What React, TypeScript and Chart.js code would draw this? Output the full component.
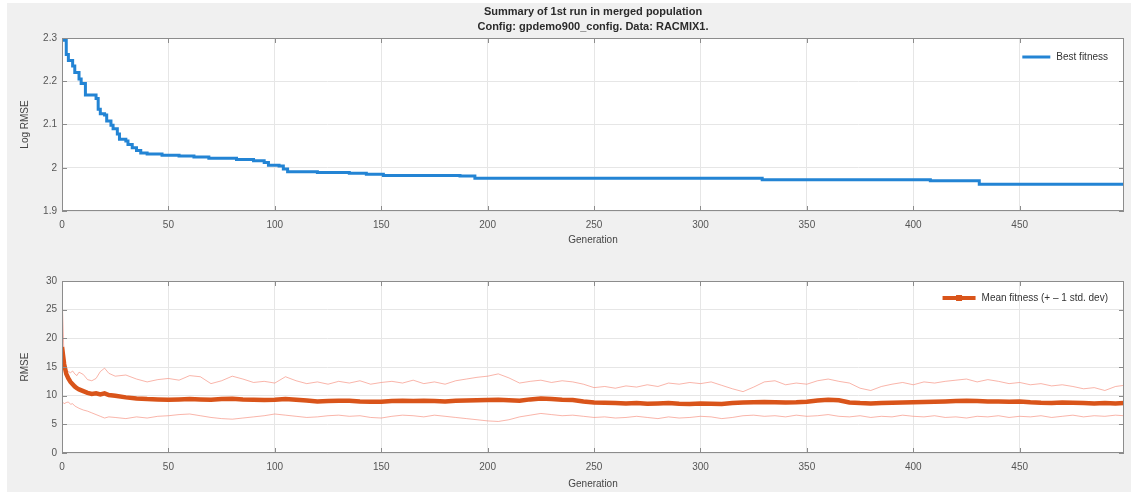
import { useEffect, useRef } from "react"
import { Chart, registerables } from "chart.js"

Chart.register(...registerables)

const FONT = "'Liberation Sans', Arial, Helvetica, sans-serif"

const titleLines = [
  "Summary of 1st run in merged population",
  "Config: gpdemo900_config. Data: RACMIX1.",
]

// x axis ticks (generations) and y ticks for both panels
const genTicks = [0, 50, 100, 150, 200, 250, 300, 350, 400, 450]
const logRmseTicks = [1.9, 2, 2.1, 2.2, 2.3]
const rmseTicks = [0, 5, 10, 15, 20, 25, 30]

// best fitness: generations where the best individual improved + its log RMSE
const bestGen = [
  0, 2, 3, 5, 6, 8, 9, 11, 16, 17, 18, 20, 21, 23, 24, 26, 27, 30, 31, 33, 35, 37, 40,
  47, 55, 62, 69, 82, 90, 95, 97, 102, 104, 106, 120, 135, 143, 151, 187, 194, 329,
  408, 431, 499,
]
const bestLogRmse = [
  2.295, 2.262, 2.248, 2.235, 2.22, 2.205, 2.195, 2.168, 2.16, 2.135, 2.125, 2.122,
  2.108, 2.098, 2.09, 2.078, 2.066, 2.062, 2.054, 2.046, 2.04, 2.034, 2.032, 2.029,
  2.027, 2.025, 2.022, 2.019, 2.016, 2.012, 2.006, 2.004, 1.997, 1.991, 1.989, 1.987,
  1.985, 1.982, 1.981, 1.976, 1.972, 1.970, 1.962, 1.962,
]

// population stats (sampled generations)
const popGen = [
  0, 1, 2, 3, 4, 5, 6, 7, 8,
  10, 12, 14, 16, 18, 20, 22,
  25, 30, 35, 40, 45,
  50, 55, 60, 65, 70, 75, 80, 85, 90, 95,
  100, 105, 110, 115, 120, 125, 130, 135, 140, 145,
  150, 155, 160, 165, 170, 175, 180, 185, 190, 195,
  200, 205, 210, 215, 220, 225, 230, 235, 240, 245,
  250, 255, 260, 265, 270, 275, 280, 285, 290, 295,
  300, 305, 310, 315, 320, 325, 330, 335, 340, 345,
  350, 355, 360, 365, 370, 375, 380, 385, 390, 395,
  400, 405, 410, 415, 420, 425, 430, 435, 440, 445,
  450, 455, 460, 465, 470, 475, 480, 485, 490, 495,
  499,
]
const meanRmse = [
  18.5, 15.5, 13.8, 13.0, 12.4, 12.0, 11.6, 11.3, 11.1,
  10.8, 10.5, 10.3, 10.4, 10.2, 10.4, 10.1,
  10.0, 9.7, 9.5, 9.4, 9.35,
  9.3, 9.35, 9.4, 9.35, 9.3, 9.4, 9.45, 9.35, 9.3, 9.25,
  9.3, 9.4, 9.3, 9.15, 9.0, 9.05, 9.1, 9.1, 9.0, 8.95,
  8.95, 9.05, 9.1, 9.05, 9.1, 9.05, 9.0, 9.1, 9.15, 9.2,
  9.25, 9.3, 9.2, 9.1, 9.35, 9.5, 9.4, 9.3, 9.25, 9.0,
  8.8, 8.75, 8.7, 8.65, 8.7, 8.6, 8.65, 8.7, 8.6, 8.55,
  8.65, 8.6, 8.55, 8.7, 8.8, 8.85, 8.9, 8.85, 8.8, 8.85,
  8.95, 9.15, 9.3, 9.2, 8.8, 8.7, 8.65, 8.7, 8.75, 8.8,
  8.85, 8.9, 8.95, 9.0, 9.05, 9.1, 9.05, 9.0, 9.0, 8.95,
  9.0, 8.85, 8.75, 8.7, 8.8, 8.75, 8.7, 8.65, 8.7, 8.65,
  8.7,
]
const upperRmse = [
  28, 16, 14.5, 14.2, 14.0, 14.3, 13.8, 13.5, 14.1,
  13.7, 12.8, 12.6, 13.0, 14.2, 14.8, 13.9,
  13.4, 13.6, 12.9, 12.4, 12.8,
  13.0, 12.7, 13.5, 13.3, 12.1, 12.6, 13.4, 12.9, 12.3, 12.5,
  12.2, 13.3, 12.6, 12.1, 12.4, 12.0, 12.5, 12.2, 12.6, 12.0,
  12.3, 12.5, 12.2, 12.7, 12.1, 12.4, 12.0, 12.6, 12.9, 13.2,
  13.4, 13.8, 13.1, 12.2, 12.5, 12.7, 12.3, 12.6, 12.4, 12.0,
  11.4, 11.6, 11.3, 11.7, 11.5, 11.9, 11.6, 12.2, 12.0, 12.3,
  12.1, 12.4, 11.8, 11.2, 10.7, 11.5, 12.4, 12.6, 11.9, 12.2,
  12.0, 12.6, 12.9, 12.5, 12.2, 11.3, 10.9, 11.6, 12.0, 12.3,
  11.9, 12.4, 12.2, 12.5, 12.7, 12.9, 12.4, 12.8, 12.5, 12.1,
  12.3, 11.9, 12.1, 11.7, 11.9, 11.6, 11.2, 11.4, 10.9, 11.6,
  11.8,
]
const lowerRmse = [
  9.0, 8.6, 8.8, 8.9, 8.5, 8.6, 8.2, 8.0, 7.8,
  7.5, 7.3, 7.0, 6.7, 6.4, 6.1, 6.3,
  6.2, 6.0, 6.3, 6.1, 6.4,
  6.5, 6.7, 6.8, 6.5, 6.2, 6.0, 5.9, 6.1, 6.3, 6.5,
  6.8, 6.6, 6.4, 6.2, 6.3, 6.5, 6.6, 6.4, 6.5, 6.2,
  6.1, 6.4, 6.6, 6.5, 6.3, 6.6, 6.4, 6.2, 6.0, 5.8,
  5.6, 5.5, 5.8, 6.3, 6.6, 6.9, 6.7, 6.5, 6.6, 6.4,
  6.2, 6.3, 6.1, 6.2, 6.4, 6.2, 6.0, 6.3, 6.1, 6.2,
  6.4, 6.3, 6.0, 6.2, 6.5, 6.6, 6.4, 6.5, 6.3, 6.6,
  6.4, 6.5, 6.7, 6.4, 6.3, 6.5, 6.2, 6.4, 6.3, 6.6,
  6.4, 6.3, 6.5, 6.2, 6.3, 6.1, 6.4, 6.3, 6.5, 6.2,
  6.4, 6.3, 6.5, 6.2, 6.4, 6.6, 6.3, 6.5, 6.4, 6.6,
  6.5,
]

const BLUE = "#2384d4"
const ORANGE = "#d9541a"
const BAND = "rgba(244, 120, 100, 0.55)"

// white axes box, box frame, inward ticks (MATLAB look), title and inside legend
function axesPlugin(opts: {
  title?: string[]
  legend: string
  color: string
  lineWidth: number
  sampleLen: number
  legendY: number
  marker?: boolean
}) {
  return {
    id: "matlabAxes",
    beforeDraw(chart: any) {
      const { ctx, chartArea: a } = chart
      ctx.save()
      ctx.fillStyle = "#ffffff"
      ctx.fillRect(a.left, a.top, a.right - a.left, a.bottom - a.top)
      ctx.restore()
    },
    afterDraw(chart: any) {
      const { ctx, chartArea: a, scales } = chart
      ctx.save()
      ctx.strokeStyle = "#8c8c8c"
      ctx.lineWidth = 1
      ctx.strokeRect(a.left + 0.5, a.top + 0.5, a.right - a.left - 1, a.bottom - a.top - 1)
      ctx.beginPath()
      for (const t of scales.x.ticks) {
        const px = Math.round(scales.x.getPixelForValue(t.value)) + 0.5
        ctx.moveTo(px, a.bottom)
        ctx.lineTo(px, a.bottom - 5)
        ctx.moveTo(px, a.top)
        ctx.lineTo(px, a.top + 5)
      }
      for (const t of scales.y.ticks) {
        const py = Math.round(scales.y.getPixelForValue(t.value)) + 0.5
        ctx.moveTo(a.left, py)
        ctx.lineTo(a.left + 5, py)
        ctx.moveTo(a.right, py)
        ctx.lineTo(a.right - 5, py)
      }
      ctx.stroke()

      // legend (no box), top right inside the axes
      ctx.font = `10px ${FONT}`
      const w = ctx.measureText(opts.legend).width
      const textX = a.right - 16 - w
      const y = a.top + opts.legendY
      ctx.fillStyle = "#333"
      ctx.textBaseline = "middle"
      ctx.textAlign = "left"
      ctx.fillText(opts.legend, textX, y)
      ctx.strokeStyle = opts.color
      ctx.lineWidth = opts.lineWidth
      ctx.beginPath()
      ctx.moveTo(textX - 6 - opts.sampleLen, y)
      ctx.lineTo(textX - 6, y)
      ctx.stroke()
      if (opts.marker) {
        ctx.fillStyle = opts.color
        ctx.fillRect(textX - 6 - opts.sampleLen / 2 - 3, y - 3, 6, 6)
      }

      if (opts.title) {
        ctx.font = `bold 11px ${FONT}`
        ctx.fillStyle = "#2b2b2b"
        ctx.textAlign = "center"
        const cx = (a.left + a.right) / 2
        ctx.fillText(opts.title[0], cx, 9)
        ctx.fillText(opts.title[1], cx, 24)
      }
      ctx.restore()
    },
  }
}

function scalesFor(yTicks: number[], yTitle: string, xTitleBottom: number) {
  const tickFont = { family: FONT, size: 10 }
  return {
    x: {
      type: "linear" as const,
      min: 0,
      max: 499,
      afterBuildTicks: (axis: any) => {
        axis.ticks = genTicks.map((v) => ({ value: v }))
      },
      afterFit: (s: any) => {
        s.height = 39
      },
      grid: { color: "#e6e6e6", drawTicks: false },
      border: { display: false },
      ticks: {
        font: tickFont,
        color: "#555",
        padding: 8,
        maxRotation: 0,
        autoSkip: false,
        callback: (v: any) => String(v),
      },
      title: {
        display: true,
        text: "Generation",
        font: { family: FONT, size: 10 },
        color: "#444",
        padding: { top: 0, bottom: xTitleBottom },
      },
    },
    y: {
      min: yTicks[0],
      max: yTicks[yTicks.length - 1],
      afterBuildTicks: (axis: any) => {
        axis.ticks = yTicks.map((v) => ({ value: v }))
      },
      afterFit: (s: any) => {
        s.width = 55
      },
      grid: { color: "#e6e6e6", drawTicks: false },
      border: { display: false },
      ticks: {
        font: tickFont,
        color: "#555",
        padding: 5,
        autoSkip: false,
        callback: (v: any) => String(Math.round(v * 10) / 10),
      },
      title: {
        display: true,
        text: yTitle,
        font: { family: FONT, size: 10 },
        color: "#444",
        padding: { top: 12, bottom: 0 },
      },
    },
  }
}

function BestChart() {
  const ref = useRef<HTMLCanvasElement>(null)
  useEffect(() => {
    if (!ref.current) return
    const chart = new Chart(ref.current, {
      type: "line",
      data: {
        datasets: [
          {
            label: "Best fitness",
            data: bestGen.map((g, i) => ({ x: g, y: bestLogRmse[i] })),
            borderColor: BLUE,
            borderWidth: 3,
            stepped: true,
            pointRadius: 0,
          },
        ],
      },
      options: {
        animation: false,
        responsive: true,
        maintainAspectRatio: false,
        events: [],
        layout: { padding: { top: 35, right: 7, left: 0, bottom: 0 } },
        plugins: { legend: { display: false }, tooltip: { enabled: false } },
        scales: scalesFor(logRmseTicks, "Log RMSE", 4) as any,
      },
      plugins: [
        axesPlugin({
          title: titleLines,
          legend: "Best fitness",
          color: BLUE,
          lineWidth: 3,
          sampleLen: 28,
          legendY: 19,
        }),
      ],
    })
    return () => chart.destroy()
  }, [])
  return <canvas ref={ref} />
}

function MeanChart() {
  const ref = useRef<HTMLCanvasElement>(null)
  useEffect(() => {
    if (!ref.current) return
    const chart = new Chart(ref.current, {
      type: "line",
      data: {
        datasets: [
          {
            label: "Mean fitness",
            data: popGen.map((g, i) => ({ x: g, y: meanRmse[i] })),
            borderColor: ORANGE,
            borderWidth: 4.5,
            pointRadius: 0,
          },
          {
            label: "+1 std",
            data: popGen.map((g, i) => ({ x: g, y: upperRmse[i] })),
            borderColor: BAND,
            borderWidth: 1,
            pointRadius: 0,
          },
          {
            label: "-1 std",
            data: popGen.map((g, i) => ({ x: g, y: lowerRmse[i] })),
            borderColor: BAND,
            borderWidth: 1,
            pointRadius: 0,
          },
        ],
      },
      options: {
        animation: false,
        responsive: true,
        maintainAspectRatio: false,
        events: [],
        layout: { padding: { top: 31, right: 7, left: 0, bottom: 0 } },
        plugins: { legend: { display: false }, tooltip: { enabled: false } },
        scales: scalesFor(rmseTicks, "RMSE", 2) as any,
      },
      plugins: [
        axesPlugin({
          legend: "Mean fitness (+ \u2013 1 std. dev)",
          color: ORANGE,
          lineWidth: 4,
          sampleLen: 33,
          legendY: 17,
          marker: true,
        }),
      ],
    })
    return () => chart.destroy()
  }, [])
  return <canvas ref={ref} />
}

export default function App() {
  return (
    <div
      style={{
        position: "absolute",
        left: 7,
        top: 3,
        width: 1124,
        height: 489,
        background: "#f0f0f0",
      }}
    >
      <div style={{ position: "relative", width: 1124, height: 247 }}>
        <BestChart />
      </div>
      <div style={{ position: "relative", width: 1124, height: 242 }}>
        <MeanChart />
      </div>
    </div>
  )
}
